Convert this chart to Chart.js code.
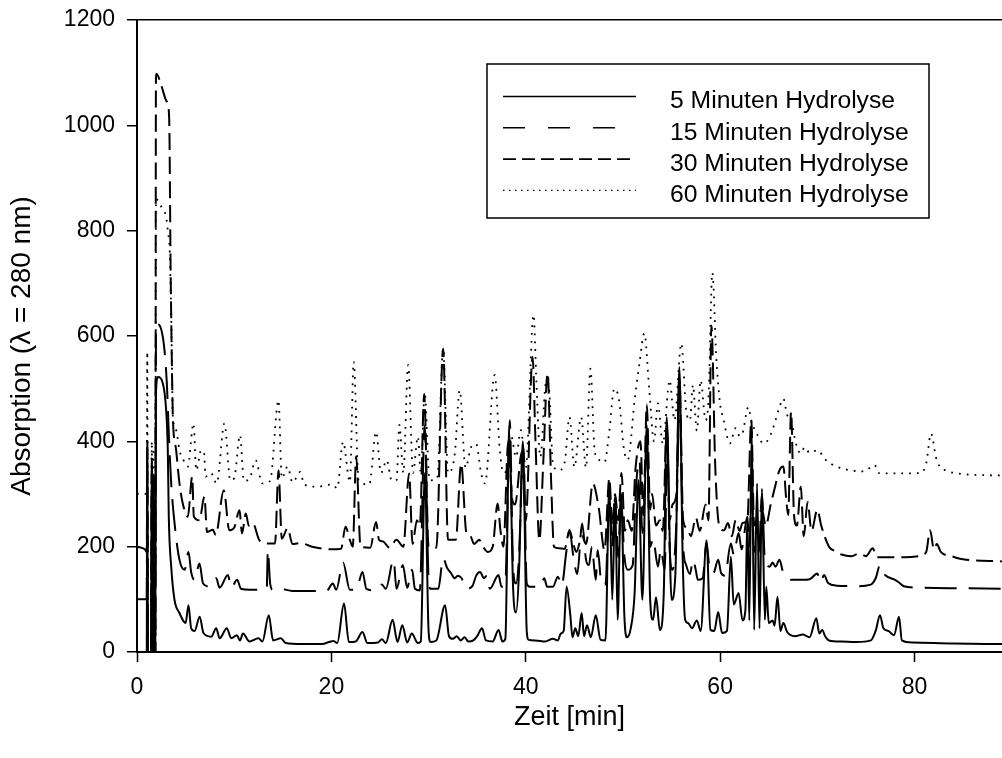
<!DOCTYPE html>
<html>
<head>
<meta charset="utf-8">
<script src="https://cdn.jsdelivr.net/npm/chart.js@4.4.1/dist/chart.umd.min.js"></script>
<style>
  html, body { margin: 0; padding: 0; background: #fff; overflow: hidden; }
  canvas { display: block; }
</style>
</head>
<body>
<canvas id="chart" width="1002" height="758"></canvas>
<script>
"use strict";

// series labels (legend order)
const LABELS = ["5 Minuten Hydrolyse", "15 Minuten Hydrolyse",
  "30 Minuten Hydrolyse", "60 Minuten Hydrolyse"];

// tick labels
const X_TICKS = [0, 20, 40, 60, 80];
const Y_TICKS = [0, 200, 400, 600, 800, 1000, 1200];

// [Zeit (min), Absorption]
const MIN5 = [[0,0],[1.0,0],[1.06,390],[1.12,0],[1.45,0],[1.52,370],[1.6,0],[1.7,300],[1.78,0],[1.88,0],
  [1.95,490],[2.14,522],[2.66,510],[3.0,459],[3.17,383],[3.27,257],[3.52,162],[3.86,99],[4.37,74],[5.0,55],
  [5.3,89],[5.57,45],[5.93,40],[6.45,67],[6.84,36],[7.63,29],[8.15,45],[8.5,26],[9.24,45],[9.7,26],
  [10.27,32],[10.6,22],[10.9,35],[11.57,20],[12.5,26],[12.9,20],[13.56,70],[14.0,22],[14.8,26],[15.3,17],
  [17,15],[19,15],[20.2,21],[20.6,17],[21.3,92],[21.8,19],[22.5,20],[23.2,38],[23.7,17],[24.8,18],
  [25.2,24],[25.6,17],[26.3,61],[26.8,19],[27.3,51],[27.8,18],[28.27,35],[28.9,17],[29.2,20],[29.62,340],
  [30.0,40],[30.2,19],[30.8,22],[31.7,89],[32.1,30],[32.5,25],[32.9,30],[33.3,22],[33.7,28],[34.1,20],
  [34.6,22],[35.0,30],[35.5,45],[35.9,22],[36.6,20],[37.2,42],[37.6,20],[37.9,25],[38.3,415],[38.7,120],
  [39.0,75],[39.3,150],[39.7,400],[40.1,40],[40.3,23],[41,22],[42,20],[42.8,25],[43.3,22],[43.6,35],
  [43.9,40],[44.2,124],[44.6,67],[44.8,28],[45.1,45],[45.4,30],[45.75,74],[46.0,30],[46.3,51],[46.7,28],
  [47.2,70],[47.7,23],[48.2,22],[48.6,320],[48.9,99],[49.2,288],[49.45,61],[49.8,301],[50.15,67],[50.4,28],
  [50.8,45],[51.2,112],[51.6,326],[52.0,99],[52.45,431],[52.8,99],[53.1,61],[53.4,104],[53.8,42],[54.2,112],
  [54.5,446],[55.0,99],[55.4,150],[55.8,541],[56.15,175],[56.4,61],[56.7,55],[57.1,45],[57.6,60],[58.0,40],
  [58.6,212],[59.0,42],[59.4,40],[59.8,76],[60.2,36],[60.7,40],[61.1,181],[61.4,90],[61.9,112],[62.3,60],
  [62.6,80],[62.8,257],[63.0,60],[63.25,421],[63.5,42],[63.8,320],[64.05,45],[64.3,310],[64.6,61],[64.75,124],
  [65.0,55],[65.4,60],[65.6,50],[65.9,105],[66.2,40],[66.5,55],[66.9,38],[67.7,30],[68.5,33],[69.2,28],
  [69.9,64],[70.2,35],[70.5,42],[70.8,30],[71.2,22],[72.5,20],[74,19],[75.5,22],[76.0,40],[76.45,70],
  [76.8,45],[77.3,40],[77.9,32],[78.4,67],[78.7,22],[79.8,18],[84,16],[89,15]];

const MIN15 = [[0,100],[1.0,100],[1.06,380],[1.12,0],[1.45,0],[1.52,360],[1.6,0],[1.7,320],[1.78,0],[1.88,0],
  [1.95,600],[2.0,623],[2.66,598],[3.07,510],[3.27,415],[3.52,320],[3.86,245],[4.37,175],[4.9,156],[5.3,190],
  [5.57,152],[5.93,137],[6.43,168],[6.8,130],[7.5,124],[8.15,140],[8.5,122],[9.35,146],[9.7,122],[10.3,137],
  [10.7,120],[11.6,118],[12.9,118],[13.35,120],[13.46,193],[13.7,130],[14.0,118],[14.7,120],[16,116],[19.5,116],
  [20.15,130],[20.5,118],[21.2,170],[21.9,118],[22.6,120],[23.2,152],[23.6,120],[24.5,117],[25.2,128],[25.6,120],
  [26.4,175],[26.7,120],[27.35,165],[27.8,122],[28.3,156],[28.6,120],[29.1,117],[29.6,430],[30.0,140],[30.2,120],
  [31.0,120],[31.5,178],[31.9,160],[32.3,150],[32.7,140],[33.0,145],[33.4,140],[33.9,120],[34.5,125],[34.9,145],
  [35.3,152],[35.7,140],[36.0,145],[36.3,120],[37.2,146],[37.5,124],[37.9,130],[38.35,440],[38.7,160],[39.0,130],
  [39.3,180],[39.75,390],[40.1,130],[40.4,124],[41.5,124],[41.9,140],[42.2,124],[42.8,124],[43.3,143],[43.7,126],
  [44.15,187],[44.5,231],[44.9,181],[45.3,148],[45.8,244],[46.2,175],[46.5,165],[46.8,200],[47.2,137],[47.4,193],
  [47.8,130],[48.2,128],[48.6,288],[48.9,200],[49.2,294],[49.5,180],[49.8,288],[50.15,181],[50.5,156],[51.0,165],
  [51.35,314],[51.7,364],[52.0,226],[52.45,380],[52.8,200],[53.1,215],[53.6,162],[53.9,195],[54.3,156],[54.55,420],
  [54.8,200],[55.1,156],[55.5,250],[55.8,480],[56.2,200],[56.5,165],[56.9,148],[57.2,175],[57.5,155],[57.7,137],
  [58.2,140],[58.6,206],[58.9,160],[59.3,150],[59.8,175],[60.1,150],[60.5,145],[61.1,206],[61.4,185],[61.9,226],
  [62.2,195],[62.8,257],[63.0,200],[63.25,300],[63.5,190],[63.8,250],[64.0,190],[64.3,300],[64.6,175],[65.1,162],
  [65.4,170],[65.7,162],[66.1,175],[66.5,150],[66.9,144],[67.3,137],[68.5,137],[69.2,138],[70.0,149],[70.3,132],
  [70.7,146],[71.1,131],[72,126],[74,125],[75.5,128],[76.0,140],[76.45,165],[76.8,150],[77.3,142],[77.9,138],
  [78.4,132],[78.9,125],[81,122],[85,121],[89,120]];

const MIN30 = [[0,200],[0.8,195],[1.0,190],[1.06,400],[1.12,0],[1.45,0],[1.52,350],[1.6,0],[1.7,340],[1.78,0],
  [1.88,0],[1.95,1090],[2.0,1098],[2.49,1076],[3.0,1047],[3.27,1028],[3.34,984],[3.4,857],[3.45,744],[3.52,636],
  [3.62,510],[3.69,446],[4.03,383],[4.37,320],[4.71,282],[5.23,257],[5.68,333],[5.85,257],[6.42,250],[6.94,295],
  [7.2,228],[7.8,232],[8.1,222],[8.93,307],[9.5,231],[10.0,236],[10.55,269],[10.8,225],[11.2,263],[11.5,240],
  [11.9,245],[12.6,212],[13.5,206],[14.2,206],[14.56,345],[14.9,215],[15.5,235],[16.0,205],[16.8,207],[18,200],
  [20,195],[21.0,196],[21.45,238],[21.9,213],[22.2,200],[22.55,371],[23.0,200],[24.0,198],[24.6,247],[24.9,213],
  [25.3,210],[26.0,198],[26.7,213],[27.4,200],[28.0,339],[28.35,205],[28.8,250],[29.1,240],[29.55,490],[30.0,200],
  [30.8,198],[31.5,576],[32.0,213],[32.8,213],[33.35,358],[33.9,225],[34.3,220],[34.7,205],[35.2,213],[35.6,200],
  [36.1,190],[36.6,200],[37.1,282],[37.4,230],[37.7,200],[38.2,400],[38.6,290],[38.9,280],[39.6,380],[40.0,250],
  [40.7,560],[41.0,400],[41.4,212],[41.8,360],[42.25,530],[42.6,330],[42.9,200],[43.4,197],[44.0,196],[44.5,231],
  [44.9,205],[45.2,190],[45.8,220],[46.2,205],[46.9,320],[47.5,275],[48.1,193],[48.6,330],[48.9,240],[49.2,300],
  [49.5,250],[49.85,340],[50.2,230],[50.5,250],[50.9,230],[51.3,350],[51.8,400],[52.1,260],[52.45,470],[52.8,270],
  [53.0,300],[53.4,240],[53.8,250],[54.1,230],[54.5,430],[54.8,250],[55.1,280],[55.5,300],[55.8,520],[56.2,250],
  [56.6,235],[57.0,220],[57.5,255],[57.9,230],[58.5,280],[58.8,250],[59.1,620],[59.5,350],[59.9,240],[60.4,231],
  [60.8,245],[61.2,220],[61.6,250],[62.0,230],[62.3,245],[62.8,250],[63.2,440],[63.5,240],[63.9,260],[64.3,270],
  [64.7,240],[65.2,280],[65.6,310],[66.1,345],[66.5,352],[66.8,290],[67.0,260],[67.3,456],[67.6,260],[67.9,240],
  [68.3,314],[68.6,220],[69.0,285],[69.4,230],[70.0,270],[70.4,240],[71.2,200],[71.8,192],[72.5,185],[73.5,182],
  [74.3,187],[75.0,182],[75.7,197],[76.1,180],[77.5,180],[79,180],[80.5,182],[81.2,190],[81.6,231],[82.0,195],
  [82.3,205],[82.7,190],[83.8,182],[85,176],[89,172]];

const MIN60 = [[0,300],[0.5,302],[1.0,300],[1.06,570],[1.12,0],[1.45,0],[1.52,400],[1.6,0],[1.7,380],[1.78,0],
  [1.88,0],[1.95,860],[2.6,842],[3.0,826],[3.2,795],[3.35,769],[3.45,700],[3.52,640],[3.62,510],[3.69,446],
  [4.03,421],[4.37,383],[4.71,367],[5.23,352],[5.81,434],[6.1,345],[6.6,383],[6.9,380],[7.05,333],[7.6,340],
  [8.2,320],[9.0,434],[9.6,326],[10.0,330],[10.6,412],[11.0,325],[11.6,330],[12.2,364],[12.9,320],[13.7,325],
  [14.56,478],[14.9,330],[15.5,352],[16.0,322],[16.8,342],[17.2,318],[18.5,314],[20.1,318],[20.6,311],[21.2,399],
  [21.9,323],[22.3,551],[22.8,326],[23.9,318],[24.6,418],[25.1,340],[25.7,364],[26.2,326],[26.7,326],[27.0,431],
  [27.4,340],[27.9,545],[28.4,340],[28.9,409],[29.2,340],[29.6,491],[30.1,326],[30.9,330],[31.5,576],[32.0,340],
  [32.7,377],[33.2,497],[33.8,350],[34.4,390],[34.9,395],[35.4,340],[35.8,320],[36.8,526],[37.3,390],[37.7,340],
  [38.1,350],[38.5,410],[39.0,370],[39.5,421],[40.0,350],[40.8,640],[41.1,510],[41.5,370],[42.1,515],[42.4,500],
  [42.8,356],[43.4,345],[44.0,360],[44.5,446],[45.0,351],[45.7,446],[46.2,350],[46.65,538],[47.1,380],[47.6,364],
  [48.1,360],[48.6,420],[49.1,500],[49.6,478],[50.1,385],[50.5,365],[51.2,478],[51.7,548],[52.2,605],[52.7,500],
  [53.2,400],[53.6,472],[54.1,395],[54.8,516],[55.3,440],[56.0,586],[56.5,460],[56.9,440],[57.2,507],[57.6,420],
  [58.0,516],[58.5,440],[58.8,480],[59.2,720],[59.6,560],[60.0,470],[60.3,445],[61.0,396],[61.6,425],[62.0,410],
  [62.3,415],[62.9,465],[63.2,440],[63.6,420],[64.0,408],[64.4,396],[65.0,405],[65.6,434],[66.1,465],[66.5,481],
  [66.9,450],[67.3,440],[67.8,396],[68.3,377],[68.7,389],[69.2,378],[70.0,383],[70.9,364],[72.0,352],[73.4,345],
  [74.8,343],[75.9,355],[76.3,340],[77.6,339],[80.7,340],[81.2,358],[81.7,415],[82.2,370],[82.6,352],[83.2,345],
  [84.4,339],[89,335]];

const FONT = "'Liberation Sans', Arial, Helvetica, sans-serif";
const Y_TITLE = "Absorption (λ = 280 nm)";
// dash patterns: on the curves, and in the legend sample
const LINE_DASH = [[], [32, 12], [17, 7], [1.8, 6]];
const LEGEND_DASH = [[], [22, 23], [13, 6], [1.5, 4.5]];

// turns [x, y] pairs into chart points
function toPoints(pairs) {
  return pairs.map(p => ({x: p[0], y: p[1]}));
}

function makeDataset(label, pairs, i) {
  return {
    label: label,
    data: toPoints(pairs),
    borderColor: "#000",
    borderWidth: i === 3 ? 1.8 : 2,
    borderDash: LINE_DASH[i],
    borderJoinStyle: "round",
    pointRadius: 0,
    cubicInterpolationMode: "monotone",
    fill: false
  };
}

// draws the boxed legend and the rotated y title
const extras = {
  id: "extras",
  afterDraw(chart) {
    let ctx = chart.ctx;
    let area = chart.chartArea;
    ctx.save();
    ctx.fillStyle = "#fff";
    ctx.fillRect(487, 64, 442, 154);
    ctx.strokeStyle = "#000";
    ctx.lineWidth = 1.5;
    ctx.strokeRect(487, 64, 442, 154);
    ctx.font = "24.7px " + FONT;
    ctx.textBaseline = "middle";
    ctx.textAlign = "left";
    chart.data.datasets.forEach((ds, i) => {
      let y = 96.5 + i * 31.3;
      ctx.setLineDash(LEGEND_DASH[i]);
      ctx.lineWidth = i === 3 ? 1.2 : 1.6;
      ctx.beginPath();
      ctx.moveTo(503, y);
      ctx.lineTo(636, y);
      ctx.stroke();
      ctx.setLineDash([]);
      ctx.fillStyle = "#000";
      ctx.fillText(ds.label, 670, y + 5);
    });

    ctx.translate(22, (area.top + area.bottom) / 2 + 10);
    ctx.rotate(-Math.PI / 2);
    ctx.textAlign = "center";
    ctx.font = "28px " + FONT;
    ctx.fillText(Y_TITLE, 0, 0);
    ctx.restore();
  }
};

new Chart(document.getElementById("chart"), {
  type: "line",
  data: {
    datasets: [
      makeDataset(LABELS[0], MIN5, 0),
      makeDataset(LABELS[1], MIN15, 1),
      makeDataset(LABELS[2], MIN30, 2),
      makeDataset(LABELS[3], MIN60, 3)
    ]
  },
  options: {
    responsive: false,
    animation: false,
    devicePixelRatio: 1,
    layout: {padding: {top: 20, right: 0, bottom: 0, left: 0}},
    plugins: {
      legend: {display: false},
      tooltip: {enabled: false}
    },
    scales: {
      x: {
        type: "linear",
        min: 0,
        max: 89,
        afterFit: scale => {
          scale.height = 106;
          scale.paddingLeft = 0;
          scale.paddingRight = 0;
        },
        afterBuildTicks: scale => {
          scale.ticks = X_TICKS.map(v => ({value: v}));
        },
        ticks: {
          includeBounds: false,
          padding: 12,
          color: "#000",
          maxRotation: 0,
          callback: v => String(v),
          font: {family: FONT, size: 23}
        },
        grid: {
          color: "rgba(0,0,0,0)",
          tickColor: "#000",
          tickLength: 10,
          tickWidth: 1.5
        },
        border: {color: "#000", width: 2},
        title: {
          display: true,
          text: "Zeit [min]",
          color: "#000",
          font: {family: FONT, size: 27},
          padding: {top: 0, bottom: 24}
        }
      },
      y: {
        min: 0,
        max: 1200,
        afterFit: scale => {
          scale.width = 137;
          scale.paddingTop = 0;
          scale.paddingBottom = 0;
        },
        afterBuildTicks: scale => {
          scale.ticks = Y_TICKS.map(v => ({value: v}));
        },
        ticks: {
          padding: 12,
          color: "#000",
          callback: v => String(v),
          font: {family: FONT, size: 23}
        },
        grid: {
          color: ctx => ctx.tick && ctx.tick.value === 1200 ? "#000" : "rgba(0,0,0,0)",
          lineWidth: 1.5,
          tickColor: "#000",
          tickLength: 10,
          tickWidth: 1.5
        },
        border: {color: "#000", width: 2}
      }
    }
  },
  plugins: [extras]
});
</script>
</body>
</html>
